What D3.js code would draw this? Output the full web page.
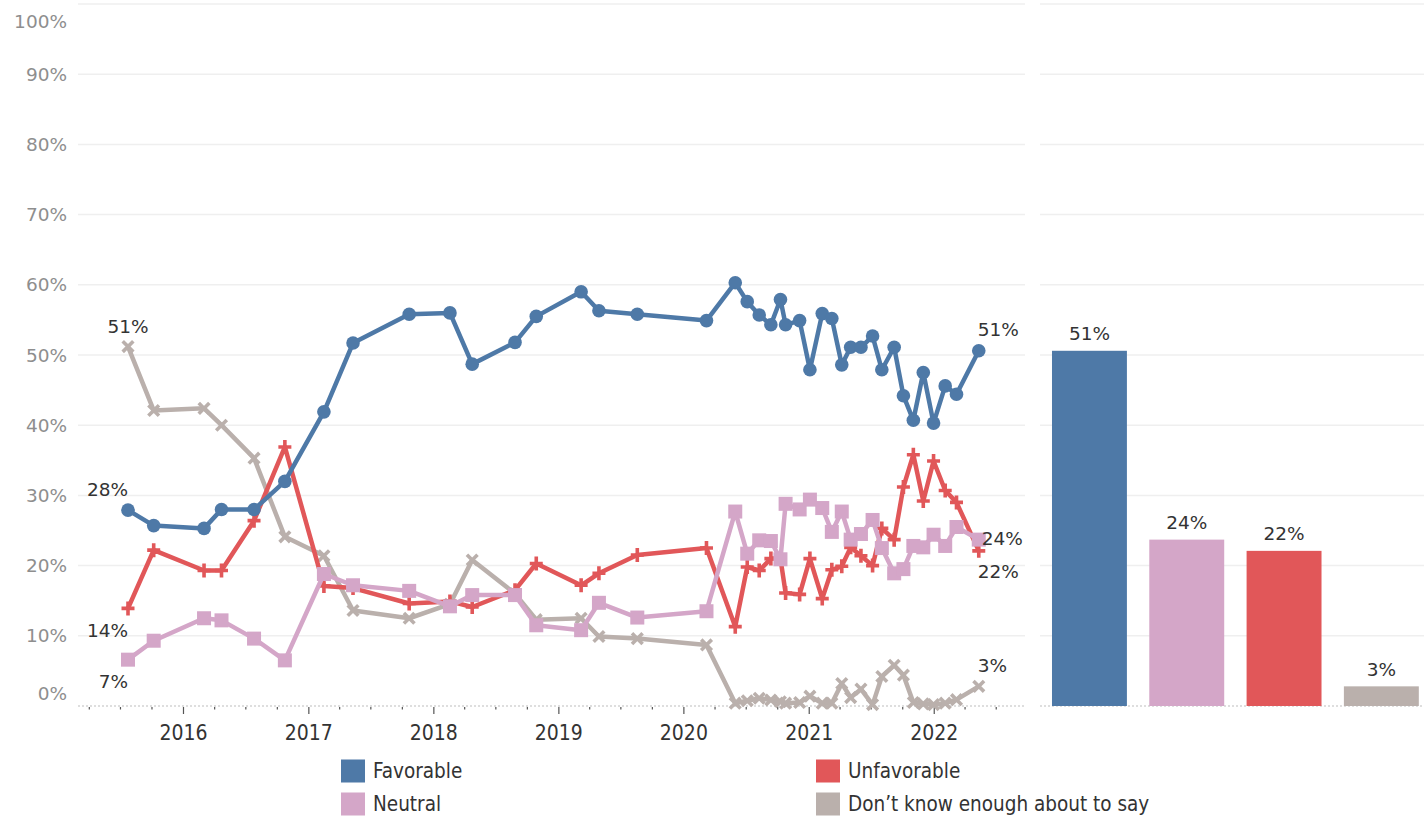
<!DOCTYPE html>
<html><head><meta charset="utf-8">
<script src="https://cdn.jsdelivr.net/npm/d3@7"></script>
<style>
html,body{margin:0;padding:0;background:#fff;}
svg{display:block;}
</style></head>
<body>
<svg id="chart" width="1424" height="816"></svg>
<script>
// ---------- DATA ----------
const dates = ["2015-07-23","2015-10-06","2016-03-01","2016-04-21","2016-07-25","2016-10-23",
"2017-02-14","2017-05-10","2017-10-21","2018-02-17","2018-04-23","2018-08-26","2018-10-27",
"2019-03-07","2019-04-28","2019-08-18","2020-03-07","2020-05-30","2020-07-04","2020-08-08",
"2020-09-11","2020-10-09","2020-10-24","2020-12-04","2021-01-03","2021-02-08","2021-03-08",
"2021-04-06","2021-05-02","2021-06-01","2021-07-05","2021-08-01","2021-09-06","2021-10-03",
"2021-11-01","2021-11-30","2021-12-30","2022-02-02","2022-03-07","2022-05-11"];

const favorable = [27.9,25.7,25.3,28.0,28.0,32.0,41.9,51.7,55.8,56.0,48.7,51.8,55.5,59.0,56.3,55.8,
54.9,60.3,57.6,55.7,54.3,57.9,54.3,54.9,47.9,55.9,55.2,48.6,51.1,51.1,52.7,47.9,51.1,44.2,40.7,47.5,40.3,45.6,44.4,50.6];
const unfavorable = [13.9,22.2,19.3,19.3,26.4,36.9,17.1,16.8,14.6,14.9,14.1,16.5,20.3,17.2,18.9,21.5,
22.5,11.3,19.8,19.3,21.0,21.0,16.1,15.9,21.0,15.3,19.4,19.9,22.6,21.4,20.0,25.3,23.7,31.2,35.8,29.2,34.9,30.7,29.0,22.1];
const neutral = [6.6,9.3,12.5,12.2,9.6,6.5,18.8,17.2,16.4,14.2,15.8,15.8,11.5,10.8,14.7,12.6,
13.5,27.7,21.7,23.6,23.5,20.9,28.8,28.0,29.4,28.2,24.8,27.7,23.7,24.5,26.5,22.5,18.9,19.5,22.8,22.6,24.4,22.8,25.5,23.7];
const dontKnow = [51.2,42.1,42.4,40.0,35.3,24.1,21.4,13.6,12.5,14.5,20.8,16.0,12.3,12.5,9.9,9.6,
8.7,0.4,0.75,1.1,0.85,0.6,0.4,0.5,1.4,0.4,0.4,3.2,1.2,2.4,0.2,4.2,5.8,4.4,0.5,0.3,0.2,0.4,0.9,2.8];

const seriesNames = ["Favorable","Unfavorable","Neutral","Don\u2019t know enough about to say"];
const barCategories = ["Favorable","Neutral","Unfavorable","Don\u2019t know enough about to say"];
const barValues = [50.6, 23.7, 22.1, 2.8];
const barLabels = ["51%","24%","22%","3%"];
const yTicks = [0,10,20,30,40,50,60,70,80,90,100];
const yTickLabels = ["0%","10%","20%","30%","40%","50%","60%","70%","80%","90%","100%"];
const startLabels = ["28%","14%","7%","51%"];   // favorable, unfavorable, neutral, don't know
const endLabels = ["51%","22%","24%","3%"];

// ---------- STYLE ----------
const colors = {"Favorable":"#4e79a7","Unfavorable":"#e15759","Neutral":"#d4a6c8","Don\u2019t know enough about to say":"#bab0ac"};
const svg = d3.select("#chart");
const parse = d3.timeParse("%Y-%m-%d");
const dts = dates.map(parse);

const x = d3.scaleTime().domain([new Date(2015,1,27), new Date(2022,8,23)]).range([78,1025]);
const y = d3.scaleLinear().domain([0,100]).range([706,4]);

const numFont = "'DejaVu Sans', sans-serif";
const condFont = "'DejaVu Sans Condensed','Liberation Sans Narrow','DejaVu Sans',sans-serif";

// gridlines
const panels = [[78,1025],[1040,1424]];
panels.forEach(([a,b])=>{
  svg.append("g").selectAll("line").data(yTicks.filter(v=>v>0)).join("line")
    .attr("x1",a).attr("x2",b).attr("y1",d=>y(d)).attr("y2",d=>y(d))
    .attr("stroke","#efefef").attr("stroke-width",1.5);
  svg.append("line").attr("x1",a).attr("x2",b).attr("y1",y(0)).attr("y2",y(0))
    .attr("stroke","#bdbdbd").attr("stroke-width",1).attr("stroke-dasharray","2,2");
});

// y labels
svg.append("g").selectAll("text").data(yTicks).join("text")
  .attr("x",67).attr("y",(d)=>Math.min(693,Math.max(21,y(d))))
  .attr("text-anchor","end").attr("dominant-baseline","central")
  .attr("font-family",numFont).attr("font-size",18.5).attr("fill","#8e8e8e")
  .text((d,i)=>yTickLabels[i]);

// x ticks
const ticks = d3.timeMonth.every(3).range(x.domain()[0], x.domain()[1]);
svg.append("g").selectAll("line").data(ticks).join("line")
  .attr("x1",d=>x(d)).attr("x2",d=>x(d)).attr("y1",707)
  .attr("y2",d=>d.getMonth()===0?714:709.5)
  .attr("stroke","#555").attr("stroke-width",1.2);
svg.append("g").selectAll("text").data(ticks.filter(d=>d.getMonth()===0)).join("text")
  .attr("x",d=>x(d)).attr("y",733).attr("text-anchor","middle").attr("dominant-baseline","central")
  .attr("font-family",condFont).attr("font-size",21).attr("fill","#333")
  .text(d=>d.getFullYear());

// lines
const seriesData = {"Favorable":favorable,"Unfavorable":unfavorable,"Neutral":neutral,"Don\u2019t know enough about to say":dontKnow};
const drawOrder = [seriesNames[3],seriesNames[1],seriesNames[2],seriesNames[0]];
const line = d3.line().x(d=>x(d.date)).y(d=>y(d.v));
drawOrder.forEach(name=>{
  const pts = dts.map((d,i)=>({date:d, v:seriesData[name][i]}));
  const g = svg.append("g");
  g.append("path").datum(pts).attr("d",line).attr("fill","none")
    .attr("stroke",colors[name]).attr("stroke-width",4.5).attr("stroke-linejoin","round");
  const m = g.selectAll("g.m").data(pts).join("g").attr("class","m")
    .attr("transform",d=>`translate(${x(d.date)},${y(d.v)})`);
  if(name==="Favorable"){
    m.append("circle").attr("r",6.8).attr("fill",colors[name]);
  } else if(name==="Neutral"){
    m.append("rect").attr("x",-7).attr("y",-7).attr("width",14).attr("height",14).attr("fill",colors[name]);
  } else if(name==="Unfavorable"){
    m.append("path").attr("d","M-6.5,0H6.5M0,-7V7").attr("stroke",colors[name]).attr("stroke-width",3.6);
  } else {
    m.append("path").attr("d","M-5.3,-5.3L5.3,5.3M-5.3,5.3L5.3,-5.3").attr("stroke",colors[name]).attr("stroke-width",3.6);
  }
});

// start / end labels
function lab(txt,xx,yy,anchor){
  svg.append("text").attr("x",xx).attr("y",yy).attr("text-anchor",anchor).attr("dominant-baseline","central")
    .attr("font-family",numFont).attr("font-size",18.5).attr("fill","#333").text(txt);
}
const x0 = x(dts[0]), xe = x(dts[dts.length-1]);
const last = dts.length-1;
lab(startLabels[0], x0, y(favorable[0])-21, "end");
lab(startLabels[1], x0, y(unfavorable[0])+22, "end");
lab(startLabels[2], x0, y(neutral[0])+22, "end");
lab(startLabels[3], x0, y(dontKnow[0])-20, "middle");
lab(endLabels[0], xe-1, y(favorable[last])-21, "start");
lab(endLabels[1], xe-1, y(unfavorable[last])+21, "start");
lab(endLabels[2], xe+3, y(neutral[last])-1, "start");
lab(endLabels[3], xe-1, y(dontKnow[last])-21, "start");

// bars
const xb = d3.scaleBand().domain(barCategories).range([1040.8,1430]).paddingInner(0.23).paddingOuter(0.115);
svg.append("g").selectAll("rect").data(barCategories).join("rect")
  .attr("x",d=>xb(d)).attr("width",xb.bandwidth())
  .attr("y",(d,i)=>y(barValues[i])).attr("height",(d,i)=>y(0)-y(barValues[i]))
  .attr("fill",d=>colors[d]);
svg.append("g").selectAll("text").data(barCategories).join("text")
  .attr("x",d=>xb(d)+xb.bandwidth()/2).attr("y",(d,i)=>y(barValues[i])-17)
  .attr("text-anchor","middle").attr("dominant-baseline","central")
  .attr("font-family",numFont).attr("font-size",18.5).attr("fill","#333")
  .text((d,i)=>barLabels[i]);

// legend
const legendPos = [[341,771],[816,771],[341,804],[816,804]];
seriesNames.forEach((n,i)=>{
  const [lx,ly] = legendPos[i];
  svg.append("rect").attr("x",lx).attr("y",ly-11.5).attr("width",24).attr("height",23).attr("fill",colors[n]);
  svg.append("text").attr("x",lx+32).attr("y",ly).attr("dominant-baseline","central")
    .attr("font-family",condFont).attr("font-size",20.5).attr("fill","#333").text(n);
});
</script>
</body></html>
